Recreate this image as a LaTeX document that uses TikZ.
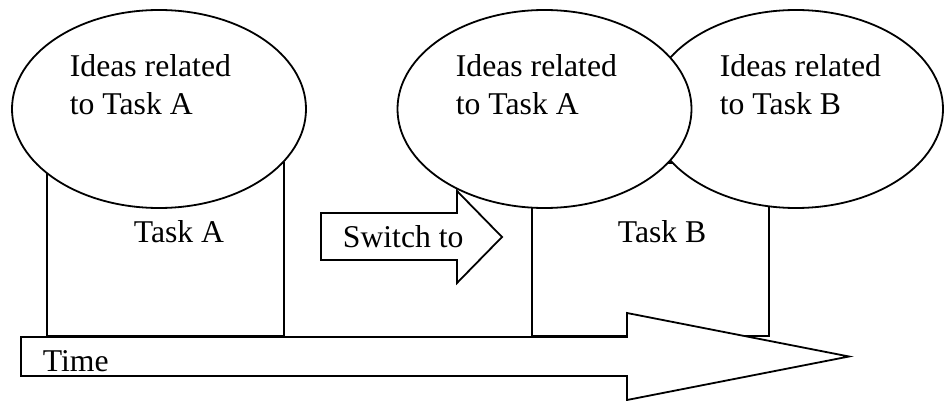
\documentclass[tikz,border=0pt]{standalone}
\usepackage{fontspec}
\setmainfont{Liberation Serif}
\usetikzlibrary{shapes.geometric}
\begin{document}
\begin{tikzpicture}[x=1pt,y=-1pt,line width=1.8pt,line join=miter,
  taskbox/.style={draw,fill=white,anchor=north west,inner sep=0pt,outer sep=0pt,
    minimum width=237pt,minimum height=173pt},
  idea/.style={draw,fill=white,ellipse,inner sep=0pt,outer sep=0pt,
    minimum width=294pt,minimum height=198pt},
  label/.style={anchor=base west,inner sep=0pt,align=left,
    font=\fontsize{31.7}{38}\selectfont},
  bigarrow/.style={draw,fill=white}]
\useasboundingbox (0,0) rectangle (945,401);

% task periods
\node[taskbox] (taskA) at (47,163) {};
\node[taskbox] (taskB) at (532,163) {};

% idea clouds
\node[idea] (ideasB) at (796,109) {};
\node[idea] (ideasA2) at (544.5,109) {};
\node[idea] (ideasA) at (159,109) {};

% switch arrow
\draw[bigarrow] (321,213) -- (457,213) -- (457,191) -- (502,237)
  -- (457,283) -- (457,260) -- (321,260) -- cycle;

% time axis
\draw[bigarrow] (21,337) -- (627,337) -- (627,313) -- (849,356.5)
  -- (627,400) -- (627,376) -- (21,376) -- cycle;

% texts (base anchor of a two-line node sits on its second line)
\node[label] (tA) at (69,115) {Ideas related\\to Task A};
\node[label] (tA2) at (455,115) {Ideas related\\to Task A};
\node[label] (tB) at (719,115) {Ideas related\\to Task B};
\node[label] (lA) at (133,242) {Task A};
\node[label] (lB) at (617,242) {Task B};
\node[label] (sw) at (342,247) {Switch to};
\node[label] (time) at (42,371) {Time};
\end{tikzpicture}
\end{document}
